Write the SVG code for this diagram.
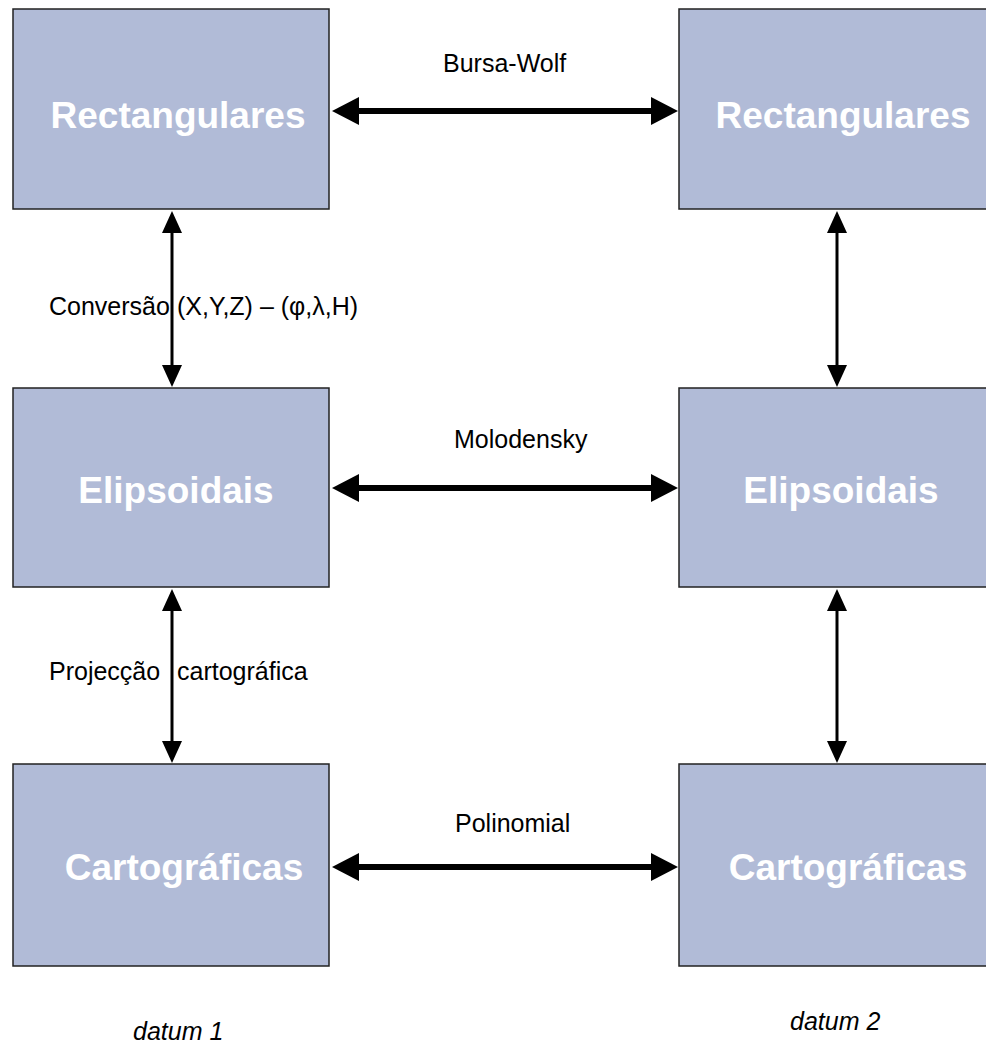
<svg xmlns="http://www.w3.org/2000/svg" width="986" height="1045" viewBox="0 0 986 1045">
<defs>
<style>
.box{fill:#b1bbd7;stroke:#222;stroke-width:1.5}
.bt{font-family:"Liberation Sans",Arial,sans-serif;font-weight:bold;font-size:37px;fill:#fff;text-anchor:middle}
.lb{font-family:"Liberation Sans",Arial,sans-serif;font-size:25px;fill:#000}
.it{font-family:"Liberation Sans",Arial,sans-serif;font-size:25px;font-style:italic;fill:#000}
.hl{stroke:#000;stroke-width:6;fill:none}
.vl{stroke:#000;stroke-width:3;fill:none}
.ah{fill:#000}
</style>
</defs>
<rect width="986" height="1045" fill="#fff"/>
<g id="rect1"><rect class="box" x="13" y="9" width="316" height="200"/><text class="bt" x="178" y="128">Rectangulares</text></g>
<g id="rect2"><rect class="box" x="679" y="9" width="316" height="200"/><text class="bt" x="843" y="128">Rectangulares</text></g>
<g id="elip1"><rect class="box" x="13" y="388" width="316" height="199"/><text class="bt" x="176" y="503">Elipsoidais</text></g>
<g id="elip2"><rect class="box" x="679" y="388" width="316" height="199"/><text class="bt" x="841" y="503">Elipsoidais</text></g>
<g id="cart1"><rect class="box" x="13" y="764" width="316" height="202"/><text class="bt" x="184" y="880">Cartográficas</text></g>
<g id="cart2"><rect class="box" x="679" y="764" width="316" height="202"/><text class="bt" x="848" y="880">Cartográficas</text></g>
<g id="connectors">
<line class="hl" x1="355" y1="111" x2="655" y2="111"/>
<polygon class="ah" points="332,111 359,97 359,125"/>
<polygon class="ah" points="678,111 651,97 651,125"/>
<line class="hl" x1="355" y1="488" x2="655" y2="488"/>
<polygon class="ah" points="332,488 359,474 359,502"/>
<polygon class="ah" points="678,488 651,474 651,502"/>
<line class="hl" x1="355" y1="867" x2="655" y2="867"/>
<polygon class="ah" points="332,867 359,853 359,881"/>
<polygon class="ah" points="678,867 651,853 651,881"/>
<line class="vl" x1="172" y1="228" x2="172" y2="370"/>
<polygon class="ah" points="172,211 162,233 182,233"/>
<polygon class="ah" points="172,387 162,365 182,365"/>
<line class="vl" x1="172" y1="606" x2="172" y2="746"/>
<polygon class="ah" points="172,589 162,611 182,611"/>
<polygon class="ah" points="172,763 162,741 182,741"/>
<line class="vl" x1="837" y1="228" x2="837" y2="370"/>
<polygon class="ah" points="837,211 827,233 847,233"/>
<polygon class="ah" points="837,387 827,365 847,365"/>
<line class="vl" x1="837" y1="606" x2="837" y2="746"/>
<polygon class="ah" points="837,589 827,611 847,611"/>
<polygon class="ah" points="837,763 827,741 847,741"/>
</g>
<g id="labels">
<text class="lb" x="443" y="72">Bursa-Wolf</text>
<text class="lb" x="454" y="448">Molodensky</text>
<text class="lb" x="455" y="832">Polinomial</text>
<text class="lb" x="49" y="315">Conversão <tspan x="177">(X,Y,Z) – (φ,λ,H)</tspan></text>
<text class="lb" x="49" y="680">Projecção <tspan x="177">cartográfica</tspan></text>
<text class="it" x="133" y="1040">datum 1</text>
<text class="it" x="790" y="1030">datum 2</text>
</g>
</svg>
